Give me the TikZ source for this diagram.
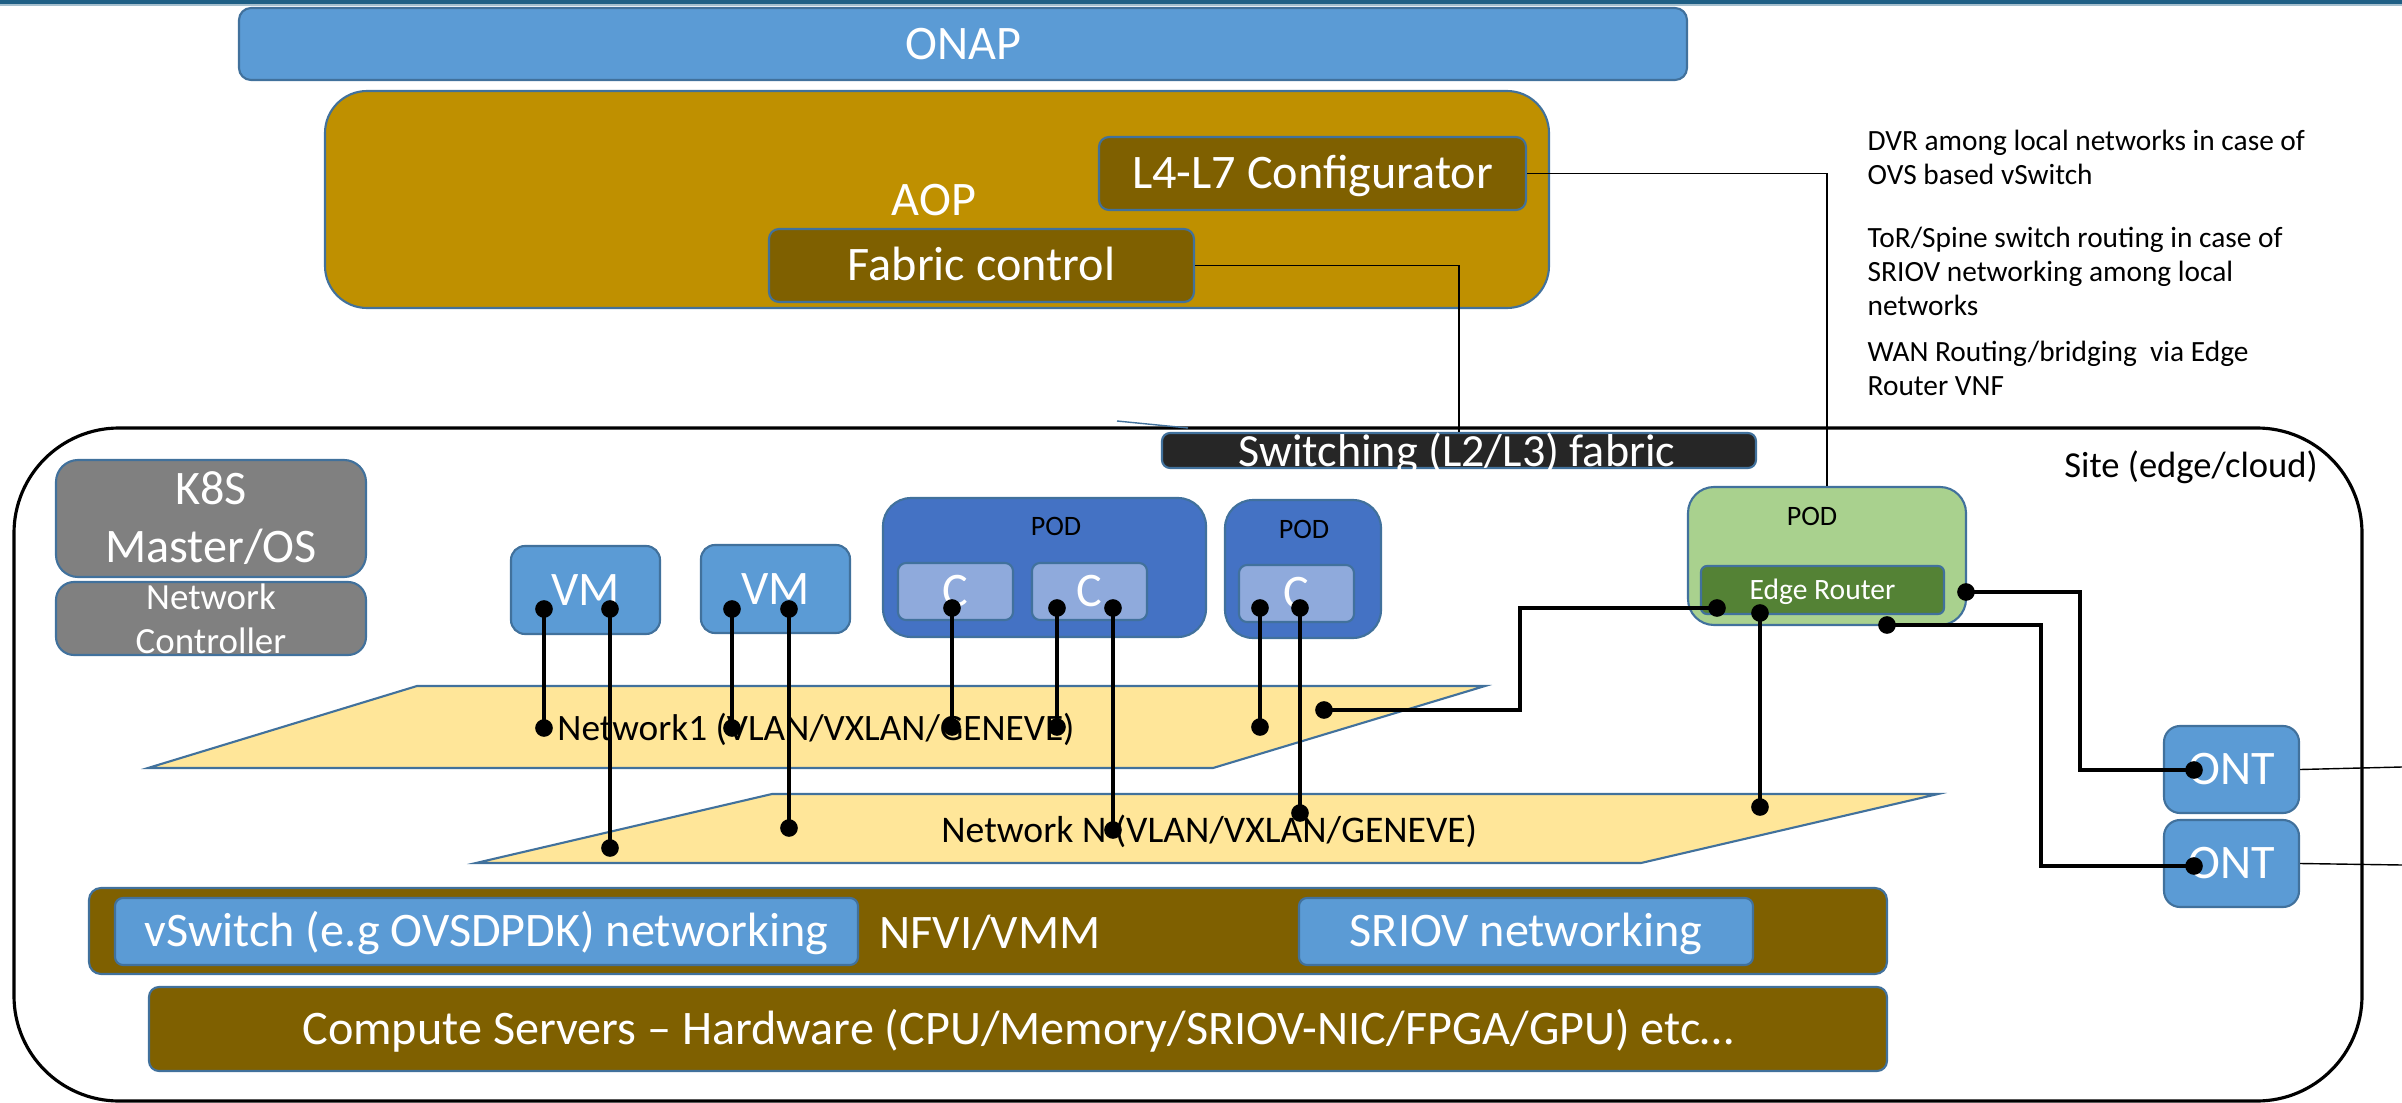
\documentclass[tikz,border=0pt]{standalone}
\usepackage{fontspec}
\setmainfont{Carlito}
\usetikzlibrary{arrows.meta,
                fit,
                positioning}
\definecolor{bordblue}{HTML}{41719C}
\definecolor{onapblue}{HTML}{5B9BD5}
\definecolor{aopgold}{HTML}{BF9000}
\definecolor{darkgold}{HTML}{7F6000}
\definecolor{podblue}{HTML}{4472C4}
\definecolor{cblue}{HTML}{8FAADC}
\definecolor{podgreen}{HTML}{A9D18E}
\definecolor{ergreen}{HTML}{548235}
\definecolor{netyellow}{HTML}{FFE699}
\definecolor{fabgray}{HTML}{262626}
\definecolor{k8sgray}{HTML}{808080}
\definecolor{topline}{HTML}{1F5F85}

\begin{document}
\begin{tikzpicture}[x=0.01cm, y=-0.01cm,
   BOX/.style = {draw=bordblue, line width=0.6pt, inner sep=0pt},
   TXT/.style = {text=white, inner sep=0pt, font=\fontsize{13.7}{16.5}\selectfont,
                 text height=8.6pt, text depth=0pt},% centred caption
  MULTI/.style = {TXT, align=center, text height={}, text depth={}},
   NET/.style = {draw=bordblue, line width=0.6pt, fill=netyellow},% network plane
    WT/.style = {text=white, font=\fontsize{13.7}{16.5}\selectfont},% white text
   POD/.style = {anchor=base, font=\fontsize{8}{10}\selectfont},
  NOTE/.style = {anchor=north west, align=left, inner sep=0pt,
                 font=\fontsize{8.35}{9.7}\selectfont},
  CONN/.style = {line width=0.9pt,
                 arrows={Circle[length=5pt]-Circle[length=5pt]},
                 shorten <=-2.5pt, shorten >=-2.5pt},
  THIN/.style = {line width=0.4pt}
                        ]
\useasboundingbox (0,0) rectangle (2402,1103);
% top rule
\draw[topline, line width=1.1pt] (0,2) -- (2402,2);
\draw[topline!40, line width=0.4pt] (0,5) -- (2402,5);
% orchestration
\node[BOX, fill=onapblue, rounded corners=0.12cm, fit={(239,8) (1687,80)},
      label={[TXT]center:ONAP}] (onap) {};
\node[BOX, fill=aopgold, rounded corners=0.42cm, fit={(325,91) (1549,308)}] (aop) {};
\node[WT, anchor=base] (aoptxt) at (934,215) {AOP};
\node[BOX, fill=darkgold, rounded corners=0.1cm, fit={(1099,137) (1526,210)},
      label={[TXT]center:L4-L7 Configurator}] (l4l7) {};
\node[BOX, fill=darkgold, rounded corners=0.1cm, fit={(769,229) (1194,302)},
      label={[TXT]center:Fabric control}] (fabctl) {};
% notes
\node[NOTE] (note1) at (1867,129) {DVR among local networks in case of\\OVS based vSwitch};
\node[NOTE] (note2) at (1867,226) {ToR/Spine switch routing in case of\\SRIOV networking among local\\networks};
\node[NOTE] (note3) at (1867,340) {WAN Routing/bridging\ \ via Edge\\Router VNF};
% site
\node[draw, line width=0.9pt, inner sep=0pt, rounded corners=1.05cm,
      fit={(14,428) (2362,1101)}] (site) {};
\node[anchor=base west, font=\fontsize{10.4}{12}\selectfont] (sitetxt) at (2052,477) {Site (edge/cloud)};
\draw[bordblue, THIN] (1117,421) -- (1188,428);
\node[BOX, fill=fabgray, rounded corners=0.08cm, fit={(1162,433) (1756,468)}] (fabric) {};
\begin{scope}
  \clip (fabric.south west) rectangle (fabric.north east);
  \node[WT, anchor=base, font=\fontsize{13.1}{15}\selectfont] (fabtxt) at (1457,466) {Switching (L2/L3) fabric};
\end{scope}
% controller
\node[BOX, fill=k8sgray, rounded corners=0.22cm, fit={(56,460) (366,577)},
      label={[MULTI]center:{K8S\\Master/OS}}] (k8s) {};
\node[BOX, fill=k8sgray, rounded corners=0.18cm, fit={(56,582) (366,655)},
      label={[MULTI, font=\fontsize{10.5}{12.5}\selectfont]center:{Network\\Controller}}] (netctl) {};
% workloads
\node[BOX, fill=onapblue, rounded corners=0.14cm, fit={(511,546) (660,634)},
      label={[TXT]center:VM}] (vm1) {};
\node[BOX, fill=onapblue, rounded corners=0.14cm, fit={(701,545) (850,633)},
      label={[TXT]center:VM}] (vm2) {};
\node[BOX, fill=podblue, rounded corners=0.28cm, fit={(883,498) (1206,637)}] (pod1) {};
\node[POD] (pod1txt) at (1056,535) {POD};
\node[BOX, fill=cblue, rounded corners=0.08cm, fit={(898,563) (1013,620)},
      label={[TXT]center:C}] (c1) {};
\node[BOX, fill=cblue, rounded corners=0.08cm, fit={(1032,563) (1147,620)},
      label={[TXT]center:C}] (c2) {};
\node[BOX, fill=podblue, rounded corners=0.28cm, fit={(1225,500) (1381,638)}] (pod2) {};
\node[POD] (pod2txt) at (1304,538) {POD};
\node[BOX, fill=cblue, rounded corners=0.08cm, fit={(1239,565) (1354,622)},
      label={[TXT]center:C}] (c3) {};
\node[BOX, fill=podgreen, rounded corners=0.26cm, fit={(1688,487) (1966,625)}] (gpod) {};
\node[POD] (gpodtxt) at (1812,525) {POD};
\node[BOX, fill=ergreen, rounded corners=0.06cm, fit={(1701,566) (1944,614)},
      label={[TXT, font=\fontsize{8.4}{10}\selectfont, text height=5.3pt]center:Edge Router}] (er) {};
\node[BOX, fill=onapblue, rounded corners=0.16cm, fit={(2164,726) (2299,813)},
      label={[TXT]center:ONT}] (ont1) {};
\node[BOX, fill=onapblue, rounded corners=0.16cm, fit={(2164,820) (2299,907)},
      label={[TXT]center:ONT}] (ont2) {};
% networks
\draw[NET] (417,686) -- (1485,686) -- (1213,768) -- (148,768) -- cycle;
\node[anchor=base west, font=\fontsize{10.6}{12}\selectfont] (net1) at (545,740) {Network1 (VLAN/VXLAN/GENEVE)};
\draw[NET] (772,794) -- (1938,794) -- (1641,863) -- (476,863) -- cycle;
\node[anchor=base west, font=\fontsize{10.7}{12}\selectfont] (netn) at (929,842) {Network N (VLAN/VXLAN/GENEVE)};
% infrastructure
\node[BOX, fill=darkgold, rounded corners=0.12cm, fit={(89,888) (1887,974)}] (nfvi) {};
\node[WT, anchor=base] (nfvitxt) at (990,948) {NFVI/VMM};
\node[BOX, fill=onapblue, rounded corners=0.08cm, fit={(115,898) (858,965)},
      label={[TXT]center:vSwitch (e.g OVSDPDK) networking}] (vswitch) {};
\node[BOX, fill=onapblue, rounded corners=0.08cm, fit={(1299,898) (1753,965)},
      label={[TXT]center:SRIOV networking}] (sriov) {};
\node[BOX, fill=darkgold, rounded corners=0.1cm, fit={(149,987) (1887,1071)},
      label={[TXT]center:Compute Servers – Hardware (CPU/Memory/SRIOV-NIC/FPGA/GPU) etc…}] (compute) {};
% control links
\draw[THIN] (l4l7.east) -| (gpod.north);
\draw[THIN] (fabctl.east) -| (fabric.north);
\coordinate (wan1) at (2402,767);
\coordinate (wan2) at (2402,865);
\draw[THIN] (ont1.east) -- (wan1);
\draw[THIN] (ont2.east) -- (wan2);
% attachment points
\foreach \n/\x/\y in {v1a/544/609, v1b/610/609, v2a/732/609, v2b/789/609,
                      c1a/952/608, c2a/1057/608, c2b/1113/608, c3a/1260/608, c3b/1300/608,
                      n1v1/544/728, nnv1/610/848, n1v2/732/728, nnv2/789/828, n1c1/952/727,
                      n1c2/1057/727, nnc2/1113/830, n1c3/1260/727, nnc3/1300/813,
                      n1er/1324/710, erw/1717/608, ers/1760/613, nner/1760/807,
                      gpe/1966/592, gps/1887/625, ont1w/2194/770, ont2w/2194/866}
  \coordinate (\n) at (\x,\y);
\foreach \a/\b in {v1a/n1v1, v1b/nnv1, v2a/n1v2, v2b/nnv2, c1a/n1c1,
                   c2a/n1c2, c2b/nnc2, c3a/n1c3, c3b/nnc3, ers/nner}
  \draw[CONN] (\a) -- (\b);
\draw[CONN] (n1er) -- ++(196,0) |- (erw);
\draw[CONN] (gpe) -- ++(114,0) |- (ont1w);
\draw[CONN] (gps) -- ++(154,0) |- (ont2w);
\end{tikzpicture}
\end{document}
